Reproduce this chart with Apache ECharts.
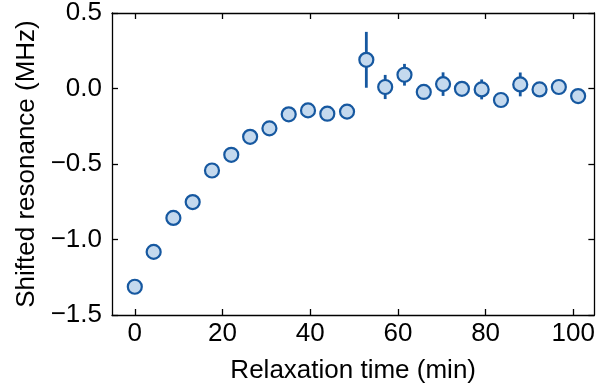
<!DOCTYPE html>
<html>
<head>
<meta charset="utf-8">
<script src="https://cdn.jsdelivr.net/npm/echarts@6/dist/echarts.min.js"></script>
<style>
html,body{margin:0;padding:0;background:#fff;}
#chart{width:598px;height:389px;}
</style>
</head>
<body>
<div id="chart"></div>
<script>
const relaxTime = [0, 4.3, 8.8, 13.2, 17.6, 22.0, 26.3, 30.7, 35.1, 39.5, 43.9, 48.4, 52.8, 57.1, 61.5, 65.9, 70.3, 74.6, 79.1, 83.5, 87.9, 92.3, 96.7, 101.1];
const shift = [-1.313, -1.082, -0.857, -0.752, -0.543, -0.439, -0.320, -0.264, -0.171, -0.145, -0.167, -0.153, 0.190, 0.010, 0.091, -0.023, 0.029, -0.002, -0.006, -0.076, 0.027, -0.006, 0.010, -0.050];
const shiftErr = [0.02, 0.02, 0.02, 0.02, 0.02, 0.02, 0.02, 0.02, 0.02, 0.02, 0.02, 0.02, 0.185, 0.080, 0.072, 0.03, 0.078, 0.03, 0.066, 0.03, 0.079, 0.03, 0.045, 0.03];
const xTicks = [0, 20, 40, 60, 80, 100];
const yTicks = [-1.5, -1.0, -0.5, 0.0, 0.5];

const FONT = 'Liberation Sans';
const FS = 26;
const stroke = '#1658a0';
const fill = '#c4d9ee';

const points = relaxTime.map((t, i) => [t, shift[i]]);
const bars = relaxTime.map((t, i) => [t, shift[i] - shiftErr[i], shift[i] + shiftErr[i]]);

const fmtY = v => v.toFixed(1).replace('-', '\u2212');
const lineSt = {color: '#000', width: 1.3};

const chart = echarts.init(document.getElementById('chart'), null, {renderer: 'canvas'});
chart.setOption({
  animation: false,
  backgroundColor: '#fff',
  grid: {left: 112, top: 13, right: 1, bottom: 73, containLabel: false},
  xAxis: [{
    type: 'value', position: 'bottom', min: -5.2, max: 104.8,
    name: 'Relaxation time (min)', nameLocation: 'middle', nameGap: 43,
    nameTextStyle: {fontFamily: FONT, fontSize: FS, color: '#000'},
    axisLine: {show: true, onZero: false, lineStyle: lineSt},
    axisTick: {show: true, inside: true, length: 6, lineStyle: lineSt, customValues: xTicks},
    axisLabel: {fontFamily: FONT, fontSize: FS, color: '#000', margin: 6, customValues: xTicks},
    splitLine: {show: false}
  }, {
    type: 'value', position: 'top', min: -5.2, max: 104.8,
    axisLine: {show: true, onZero: false, lineStyle: lineSt},
    axisTick: {show: true, inside: true, length: 6, lineStyle: lineSt, customValues: xTicks},
    axisLabel: {show: false},
    splitLine: {show: false}
  }],
  yAxis: [{
    type: 'value', position: 'left', min: -1.5, max: 0.5, interval: 0.5,
    name: 'Shifted resonance (MHz)', nameLocation: 'middle', nameGap: 72,
    nameTextStyle: {fontFamily: FONT, fontSize: FS, color: '#000'},
    axisLine: {show: true, onZero: false, lineStyle: lineSt},
    axisTick: {show: true, inside: true, length: 6, lineStyle: lineSt},
    axisLabel: {fontFamily: FONT, fontSize: FS, color: '#000', margin: 10, formatter: fmtY},
    splitLine: {show: false}
  }, {
    type: 'value', position: 'right', min: -1.5, max: 0.5, interval: 0.5,
    axisLine: {show: true, onZero: false, lineStyle: lineSt},
    axisTick: {show: true, inside: true, length: 6, lineStyle: lineSt},
    axisLabel: {show: false},
    splitLine: {show: false}
  }],
  series: [{
    type: 'custom',
    xAxisIndex: 0, yAxisIndex: 0,
    data: bars,
    z: 1,
    renderItem: function (params, api) {
      const lo = api.coord([api.value(0), api.value(1)]);
      const hi = api.coord([api.value(0), api.value(2)]);
      return {
        type: 'line',
        shape: {x1: lo[0], y1: lo[1], x2: hi[0], y2: hi[1]},
        style: {stroke: stroke, lineWidth: 2.8}
      };
    }
  }, {
    type: 'scatter',
    xAxisIndex: 0, yAxisIndex: 0,
    data: points,
    z: 2,
    symbol: 'circle',
    symbolSize: 14,
    itemStyle: {color: fill, borderColor: stroke, borderWidth: 2.2, opacity: 1}
  }]
});
</script>
</body>
</html>
